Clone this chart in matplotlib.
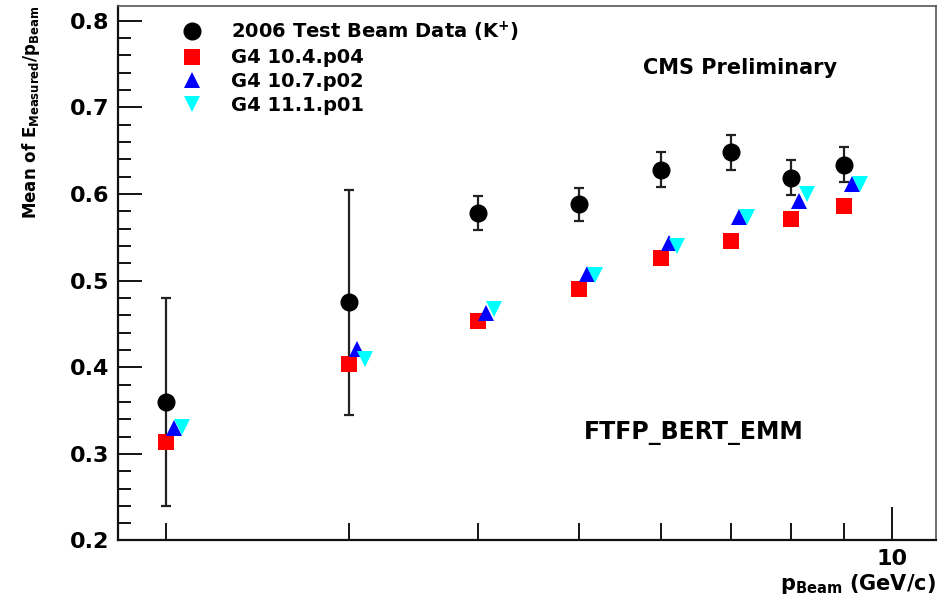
import matplotlib
matplotlib.use('Agg')
import matplotlib.pyplot as plt
import matplotlib.ticker as ticker
import matplotlib.transforms as transforms

# Beam momenta (GeV/c) and the mean response for the test beam data and each Geant4 version.
beamMomenta = [2, 3, 4, 5, 6, 7, 8, 9]
dataMean = [0.360, 0.475, 0.578, 0.588, 0.628, 0.648, 0.619, 0.634]
dataError = [0.120, 0.130, 0.020, 0.019, 0.020, 0.020, 0.020, 0.020]
g4v104 = [0.314, 0.404, 0.453, 0.490, 0.526, 0.546, 0.571, 0.586]
g4v107 = [0.330, 0.421, 0.463, 0.508, 0.543, 0.574, 0.592, 0.611]
g4v111 = [0.331, 0.410, 0.467, 0.507, 0.540, 0.574, 0.600, 0.612]

seriesLabels = ['2006 Test Beam Data (K$^{\\mathbf{+}}$)', 'G4 10.4.p04', 'G4 10.7.p02', 'G4 11.1.p01']


def main():
    """Draw the mean response against beam momentum."""

    plt.rcParams['font.family'] = ['DejaVu Sans']
    plt.rcParams['font.weight'] = 'bold'
    plt.rcParams['axes.labelweight'] = 'bold'
    plt.rcParams['mathtext.fontset'] = 'dejavusans'
    plt.rcParams['mathtext.default'] = 'bf'

    fig = plt.figure(figsize=(9.47, 6.01), dpi=100)
    axes = fig.add_axes([0.1246, 0.1007, 0.8635, 0.8893])

    # Shifted copies of the data transform so the simulation markers sit beside each other (as in the original).
    blueShift = transforms.offset_copy(axes.transData, fig=fig, x=8, y=0, units='dots')
    cyanShift = transforms.offset_copy(axes.transData, fig=fig, x=16, y=0, units='dots')

    dataPlot = axes.errorbar(beamMomenta, dataMean, yerr=dataError, fmt='o', color='black', markersize=12,
        ecolor='#222222', elinewidth=1.6, capsize=3.5, capthick=1.6, zorder=2)
    redPlot, = axes.plot(beamMomenta, g4v104, 's', color='#ff0000', markersize=12, markeredgewidth=0, zorder=3)
    bluePlot, = axes.plot(beamMomenta, g4v107, '^', color='#0000ff', markersize=12, markeredgewidth=0,
        transform=blueShift, zorder=4)
    cyanPlot, = axes.plot(beamMomenta, g4v111, 'v', color='#00ffff', markersize=12, markeredgewidth=0,
        transform=cyanShift, zorder=5)

    axes.set_xscale('log')
    axes.set_xlim(1.8, 11.02)
    axes.set_ylim(0.2, 0.817)

    # ROOT style axes: inward ticks on the left and bottom only.
    axes.xaxis.set_major_locator(ticker.FixedLocator([10]))
    axes.xaxis.set_minor_locator(ticker.FixedLocator(beamMomenta))
    axes.xaxis.set_major_formatter(ticker.FixedFormatter(['10']))
    axes.xaxis.set_minor_formatter(ticker.NullFormatter())
    axes.yaxis.set_major_locator(ticker.MultipleLocator(0.1))
    axes.yaxis.set_minor_locator(ticker.MultipleLocator(0.02))
    axes.yaxis.set_major_formatter(ticker.FormatStrFormatter('%.1f'))
    axes.tick_params(axis='x', which='major', direction='in', length=24, width=1.3, pad=6, labelsize=16)
    axes.tick_params(axis='x', which='minor', direction='in', length=12, width=1.3)
    axes.tick_params(axis='y', which='major', direction='in', length=17, width=1.3, pad=6, labelsize=16)
    axes.tick_params(axis='y', which='minor', direction='in', length=9.5, width=1.3)
    for side in ['left', 'bottom']:
        axes.spines[side].set_linewidth(1.6)
        axes.spines[side].set_color('#111111')
    for side in ['top', 'right']:
        axes.spines[side].set_linewidth(1.2)
        axes.spines[side].set_color('#555555')

    axes.set_xlabel('p$_{\\mathbf{Beam}}$ (GeV/c)', loc='right', fontsize=15, labelpad=2)
    axes.set_ylabel('Mean of E$_{\\mathbf{Measured}}$/p$_{\\mathbf{Beam}}$', loc='top', fontsize=12, labelpad=20)

    axes.legend([dataPlot[0], redPlot, bluePlot, cyanPlot], seriesLabels, loc='upper left',
        bbox_to_anchor=(0.052, 1.008), frameon=False, fontsize=14, handletextpad=1.3, labelspacing=0.25,
        handlelength=1.4)

    axes.text(0.761, 0.884, 'CMS Preliminary', transform=axes.transAxes, ha='center', va='center', fontsize=15)
    axes.text(0.704, 0.202, 'FTFP_BERT_EMM', transform=axes.transAxes, ha='center', va='center', fontsize=17)

    fig.savefig('out.png', dpi=100)


if __name__ == '__main__':
    main()
